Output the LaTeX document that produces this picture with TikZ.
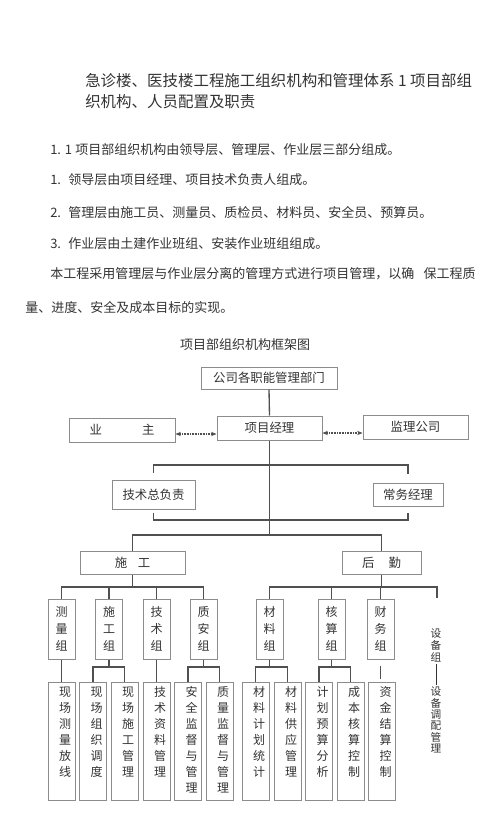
\documentclass[tikz,border=0pt]{standalone}
\usepackage{fontspec}
\setmainfont{Noto Sans CJK SC}
\usetikzlibrary{calc,arrows.meta}
\definecolor{txt}{HTML}{333333}
\definecolor{bxc}{HTML}{8C8C8C}
\definecolor{lnc}{HTML}{505050}
\begin{document}
\begin{tikzpicture}[x=0.75pt,y=-0.75pt,
  tn/.style={inner sep=0pt, text=txt, anchor=base west},
  ttl/.style={tn, font=\fontsize{11.6pt}{14pt}\selectfont},
  bod/.style={tn, font=\fontsize{9.75pt}{12pt}\selectfont},
  bx/.style n args={2}{draw=bxc, line width=0.75pt, inner sep=0pt, text=txt,
     font=\fontsize{9.3pt}{11pt}\selectfont,
     minimum width={#1*0.75pt}, minimum height={#2*0.75pt}},
  gb/.style={bx={27}{60}, align=center, font=\fontsize{9pt}{12.75pt}\selectfont},
  lb/.style={bx={27}{118}},
  vt/.style={inner sep=0pt, align=center, text=txt, anchor=north,
     font=\fontsize{9pt}{12pt}\selectfont},
  vs/.style={inner sep=0pt, align=center, text=txt, font=\fontsize{8pt}{#1}\selectfont},
  conn/.style={draw=lnc, line width=1pt},
  darr/.style={draw=lnc, line width=0.8pt, dash pattern=on 0.6pt off 0.6pt,
     {Stealth[length=4pt,width=3.2pt]}-{Stealth[length=4pt,width=3.2pt]}}]
\useasboundingbox (0,0) rectangle (500,823);
\fill[white] (0,0) rectangle (500,823);
% heading and text
\node[ttl] (t1) at (85,87) {急诊楼、医技楼工程施工组织机构和管理体系 1 项目部组};
\node[ttl] (t2) at (85,108) {织机构、人员配置及职责};
\node[bod] (n1) at (50,155) {1. 1};
\node[bod] (l1) at (75,155) {项目部组织机构由领导层、管理层、作业层三部分组成。};
\node[bod] (n2) at (50,185) {1.};
\node[bod] (l2) at (68,185) {领导层由项目经理、项目技术负责人组成。};
\node[bod] (n3) at (50,218) {2.};
\node[bod] (l3) at (68,218) {管理层由施工员、测量员、质检员、材料员、安全员、预算员。};
\node[bod] (n4) at (50,248) {3.};
\node[bod] (l4) at (68,248) {作业层由土建作业班组、安装作业班组组成。};
\node[bod] (l5) at (50,278) {本工程采用管理层与作业层分离的管理方式进行项目管理，以确\hspace{7pt}保工程质};
\node[bod] (l6) at (25,312) {量、进度、安全及成本目标的实现。};
\node[inner sep=0pt, text=txt, font=\fontsize{9.75pt}{12pt}\selectfont] (ct) at (245,345) {项目部组织机构框架图};
% top boxes
\node[bx={136}{22}] (gs) at (269,378) {公司各职能管理部门};
\node[bx={105}{24}] (xm) at (269.5,428) {项目经理};
\node[bx={106}{24}] (yz) at (122,430) {业\hspace{30pt}主};
\node[bx={105}{24}] (jl) at (415.5,427) {监理公司};
\node[bx={83}{29}] (tz) at (153.5,494.5) {技术总负责};
\node[bx={70}{23}] (cw) at (408,494.5) {常务经理};
\node[bx={105}{23}] (sg) at (132.5,562.5) {施\hspace{8pt}工};
\node[bx={79}{23}] (hq) at (381.5,562.5) {后\hspace{10.5pt}勤};
% group boxes
\node[gb] (clz) at (61.5,629) {测\\量\\组};
\node[gb] (sgz) at (109,629) {施\\工\\组};
\node[gb] (jsz) at (156.5,629) {技\\术\\组};
\node[gb] (zaz) at (203.5,629) {质\\安\\组};
\node[gb] (clz2) at (269.5,629) {材\\料\\组};
\node[gb] (hsz) at (331.5,629) {核\\算\\组};
\node[gb] (cwz) at (380.5,629) {财\\务\\组};
\node[vs=9pt] (sbz) at (436,645) {设\\备\\组};
\node[vs=8.5pt] (sbdp) at (436,720) {设\\备\\调\\配\\管\\理};
% bottom boxes
\foreach \n/\x/\t in {b1/61.5/{现\\场\\测\\量\\放\\线},
  b2/93/{现\\场\\组\\织\\调\\度},
  b3/124.5/{现\\场\\施\\工\\管\\理},
  b4/156.5/{技\\术\\资\\料\\管\\理},
  b5/188/{安\\全\\监\\督\\与\\管\\理},
  b6/219.5/{质\\量\\监\\督\\与\\管\\理},
  b7/255.5/{材\\料\\计\\划\\统\\计},
  b8/287.5/{材\\料\\供\\应\\管\\理},
  b9/319/{计\\划\\预\\算\\分\\析},
  b10/350.5/{成\\本\\核\\算\\控\\制},
  b11/382/{资\\金\\结\\算\\控\\制}}{
  \node[lb] (\n) at (\x,741) {};
  \node[vt] (\n t) at ($(\n.north)+(3.5,5)$) {\t};
}
% coordinates
\coordinate (j1) at (269,465);
\coordinate (j2) at (269,520);
\coordinate (j3) at (269,535);
\coordinate (j4) at (0,587);
\coordinate (j5) at (0,667);
\coordinate (sbt) at (437,598);
% connectors
\draw[conn] (gs.south) -- (xm.north);
\draw[darr] ($(yz.east)+(0,4)$) -- ($(xm.west)+(0,6)$);
\draw[darr] ($(xm.east)+(0,5)$) -- ($(jl.west)+(0,6)$);
\draw[conn] (xm.south) -- (xm.south |- j3);
\draw[conn] ($(tz.north)+(0,-7)$) -- (tz.north |- j1) -- (cw.north |- j1) -- ($(cw.north)+(0,-9)$);
\draw[conn] ($(tz.south)+(0,3)$) -- (tz.south |- j2) -- (cw.south |- j2) -- ($(cw.south)+(0,6)$);
\draw[conn] (sg.north) -- (sg.north |- j3) -- (hq.north |- j3) -- (hq.north);
\draw[conn] (sg.south) -- (sg.south |- j4);
\draw[conn] (clz.north) -- (clz.north |- j4) -- (zaz.north |- j4) -- (zaz.north);
\draw[conn] (sgz.north) -- (sgz.north |- j4);
\draw[conn] (jsz.north) -- (jsz.north |- j4);
\draw[conn] (hq.south) -- (hq.south |- j4);
\draw[conn] (clz2.north) -- (clz2.north |- j4) -- (sbt |- j4) -- (sbt);
\draw[conn] (hsz.north) -- (hsz.north |- j4);
\draw[conn] (cwz.north) -- (cwz.north |- j4);
\draw[conn] (clz.south) -- (b1.north);
\draw[conn] (sgz.south) -- (sgz.south |- j5);
\draw[conn] (b2.north) -- (b2.north |- j5) -- (b3.north |- j5) -- (b3.north);
\draw[conn] (jsz.south) -- (b4.north);
\draw[conn] (zaz.south) -- (zaz.south |- j5);
\draw[conn] (b5.north) -- (b5.north |- j5) -- (b6.north |- j5) -- (b6.north);
\draw[conn] (clz2.south) -- (clz2.south |- j5);
\draw[conn] (b7.north) -- (b7.north |- j5) -- (b8.north |- j5) -- (b8.north);
\draw[conn] (hsz.south) -- (hsz.south |- j5);
\draw[conn] (b9.north) -- (b9.north |- j5) -- (b10.north |- j5) -- (b10.north);
\draw[conn] ($(cwz.south)+(0,6)$) -- ($(cwz.south)+(0,19)$);
\draw[draw=txt, line width=0.5pt, shorten <=1.5pt, shorten >=1.5pt] (sbz.south) -- (sbdp.north);
\end{tikzpicture}
\end{document}
